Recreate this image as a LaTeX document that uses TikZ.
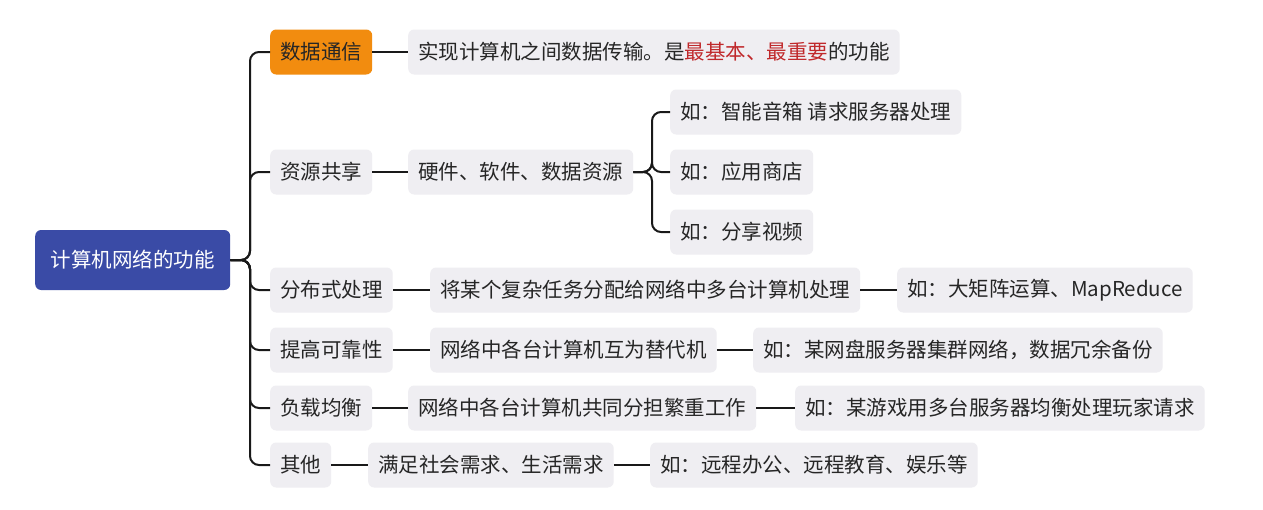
\documentclass[tikz,border=0pt]{standalone}
\usepackage{fontspec}
\newfontfamily\cjk{Noto Sans CJK SC}
\definecolor{boxg}{HTML}{EFEEF2}
\definecolor{rootb}{HTML}{3A4BA6}
\definecolor{orng}{HTML}{F28C0F}
\definecolor{redt}{HTML}{C0282B}
\begin{document}
\begin{tikzpicture}[x=1pt,y=-1pt,
  box/.style={fill=boxg,rounded corners=6pt,minimum height=45pt,inner xsep=10pt,anchor=west,font=\cjk\fontsize{20.5}{24}\selectfont,text=black!85},
  ln/.style={line width=2pt,black!90,rounded corners=9pt}]
\useasboundingbox (0,0) rectangle (1263,509);
\fill[white] (0,0) rectangle (1263,509);
\node[box,fill=rootb,text=white,minimum height=60pt,minimum width=195pt] (root) at (35,260) {计算机网络的功能};
\node[box,fill=orng,minimum width=100pt] (a1) at (270,52) {数据通信};
\node[box,minimum width=100pt] (a2) at (270,172) {资源共享};
\node[box] (a3) at (270,290) {分布式处理};
\node[box] (a4) at (270,350) {提高可靠性};
\node[box] (a5) at (270,408) {负载均衡};
\node[box] (a6) at (270,465) {其他};
\node[box] (b1) at (408,52) {实现计算机之间数据传输。是\textcolor{redt}{最基本、最重要}的功能};
\node[box] (b2) at (408,172) {硬件、软件、数据资源};
\node[box] (b3) at (430,290) {将某个复杂任务分配给网络中多台计算机处理};
\node[box] (b4) at (430,350) {网络中各台计算机互为替代机};
\node[box] (b5) at (408,408) {网络中各台计算机共同分担繁重工作};
\node[box] (b6) at (368,465) {满足社会需求、生活需求};
\node[box] (c1) at (670,112) {如：智能音箱 请求服务器处理};
\node[box] (c2) at (670,172) {如：应用商店};
\node[box] (c3) at (670,232) {如：分享视频};
\node[box] (c4) at (897,290) {如：大矩阵运算、MapReduce};
\node[box] (c5) at (753,350) {如：某网盘服务器集群网络，数据冗余备份};
\node[box] (c6) at (795,408) {如：某游戏用多台服务器均衡处理玩家请求};
\node[box] (c7) at (650,465) {如：远程办公、远程教育、娱乐等};
\coordinate (j1) at (250,260);
\coordinate (j2) at (652,172);
\foreach \t in {a1,a2,a3,a4,a5,a6}
  \draw[ln] (root.east) -- (j1) |- (\t.west);
\foreach \t in {c1,c2,c3}
  \draw[ln] (b2.east) -- (j2) |- (\t.west);
\foreach \s/\t in {a1/b1,a2/b2,a3/b3,a4/b4,a5/b5,a6/b6,b3/c4,b4/c5,b5/c6,b6/c7}
  \draw[ln] (\s.east) -- (\t.west);
\end{tikzpicture}
\end{document}
